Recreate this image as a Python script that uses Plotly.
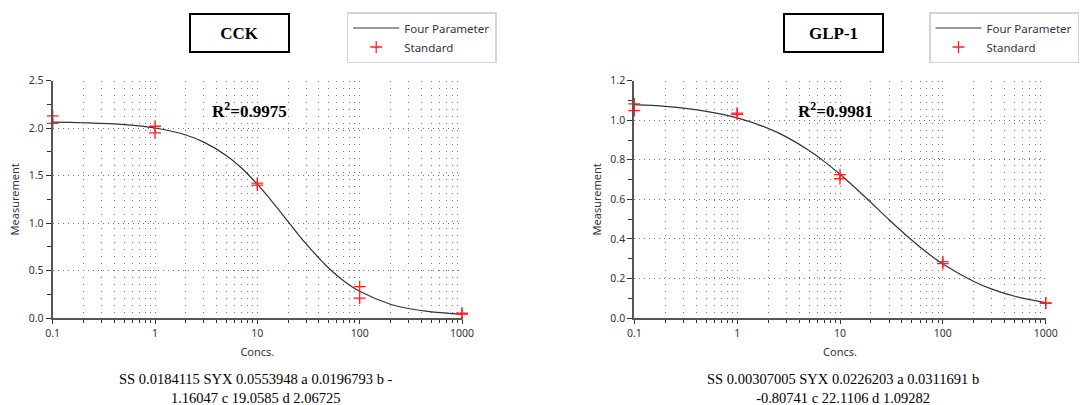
import plotly.graph_objects as go

# ---------------- data ----------------
conc_curve = [0.1, 0.2, 0.5, 1, 2, 3, 5, 7, 10, 15, 20, 30, 50, 70, 100, 200, 300, 500, 1000]
cck_curve = [2.063, 2.057, 2.038, 2.002, 1.928, 1.853, 1.710, 1.580, 1.410, 1.185, 1.015,
             0.780, 0.524, 0.390, 0.281, 0.145, 0.100, 0.065, 0.040]
glp_curve = [1.079, 1.070, 1.045, 1.012, 0.959, 0.916, 0.847, 0.792, 0.727, 0.645, 0.584,
             0.497, 0.393, 0.331, 0.273, 0.185, 0.146, 0.110, 0.078]

std_conc = [0.1, 0.1, 1, 1, 10, 10, 100, 100, 1000, 1000]
cck_std = [2.13, 2.05, 2.02, 1.95, 1.42, 1.40, 0.33, 0.21, 0.05, 0.04]
glp_std = [1.083, 1.049, 1.036, 1.030, 0.725, 0.705, 0.285, 0.275, 0.076, 0.074]

x_tickvals = [0.1, 1, 10, 100, 1000]
x_ticktext = ["0.1", "1", "10", "100", "1000"]
x_minor = [m * d for d in (0.1, 1, 10, 100) for m in range(2, 10)]

panel_titles = ["CCK", "GLP-1"]
r2_texts = ["R<sup>2</sup>=0.9975", "R<sup>2</sup>=0.9981"]
stat_texts = ["SS 0.0184115 SYX 0.0553948 a 0.0196793 b -<br>1.16047 c 19.0585 d 2.06725",
              "SS 0.00307005 SYX 0.0226203 a 0.0311691 b<br>-0.80741 c 22.1106 d 1.09282"]
y_ranges = [[0, 2.5], [0, 1.2]]
y_dticks = [0.5, 0.2]

# ---------------- layout constants ----------------
W, H = 1082, 405
px = lambda v: v / W
py = lambda v: 1 - v / H

x_domains = [[px(52.7), px(462)], [px(634.3), px(1045.7)]]
y_domain = [py(318), py(80.7)]

tick_font = dict(family="Noto Sans", size=10.5, color="#333344")
title_font = dict(family="Noto Sans", size=11, color="#333344")
GRID = "#7a7a7a"

fig = go.Figure()

series = [(cck_curve, cck_std), (glp_curve, glp_std)]
for i, (curve, std) in enumerate(series):
    xa = "x" if i == 0 else "x2"
    ya = "y" if i == 0 else "y2"
    lg = "legend" if i == 0 else "legend2"
    fig.add_trace(go.Scatter(
        x=conc_curve, y=curve, mode="lines", name="Four Parameter",
        line=dict(color="#333333", width=1.2, shape="spline"),
        xaxis=xa, yaxis=ya, legend=lg, cliponaxis=False))
    fig.add_trace(go.Scatter(
        x=std_conc, y=std, mode="markers", name="Standard",
        marker=dict(symbol="cross-thin", size=8.5, line=dict(color="#ff2020", width=1.3)),
        xaxis=xa, yaxis=ya, legend=lg, cliponaxis=False))

axis_common_x = dict(
    type="log", range=[-1, 3], tickmode="array", tickvals=x_tickvals, ticktext=x_ticktext,
    ticks="outside", ticklen=4, tickcolor="#333333", tickfont=tick_font,
    showline=True, linecolor="#555555", linewidth=2,
    showgrid=True, gridcolor=GRID, griddash="1px,6px", gridwidth=1,
    minor=dict(tickmode="array", tickvals=x_minor, ticks="outside", ticklen=3,
               tickcolor="#333333", showgrid=True, gridcolor=GRID,
               griddash="1px,6px", gridwidth=1),
    zeroline=False, fixedrange=True,
    title=dict(text="Concs.", font=title_font, standoff=10),
)

layout = dict(
    width=W, height=H, margin=dict(l=0, r=0, t=0, b=0, autoexpand=False),
    paper_bgcolor="white", plot_bgcolor="white",
    showlegend=True,
)

for i in range(2):
    sfx = "" if i == 0 else "2"
    xa = dict(axis_common_x, domain=x_domains[i], anchor="y" + sfx)
    ya = dict(
        range=y_ranges[i], dtick=y_dticks[i], tickformat=".1f", domain=y_domain,
        anchor="x" + sfx, ticks="outside", ticklen=5, tickcolor="#333333",
        tickfont=tick_font, showline=True, linecolor="#555555", linewidth=2,
        showgrid=True, gridcolor=GRID, griddash="1px,4px", gridwidth=1,
        minor=dict(dtick=y_dticks[i] / 2, ticks="outside", ticklen=4,
                   tickcolor="#333333", showgrid=False),
        zeroline=False, fixedrange=True,
        title=dict(text="Measurement", font=title_font, standoff=7),
    )
    layout["xaxis" + sfx] = xa
    layout["yaxis" + sfx] = ya

legend_common = dict(
    xanchor="left", yanchor="top", bgcolor="white",
    bordercolor="#d4d4d4", borderwidth=1.5,
    font=dict(family="Noto Sans", size=11.5, color="#333344"),
    itemwidth=46, tracegroupgap=0,
)
layout["legend"] = dict(legend_common, x=px(346.7), y=py(12))
layout["legend2"] = dict(legend_common, x=px(929), y=py(12))

fig.update_layout(**layout)

title_centers = [239.5, 833.5]
r2_centers = [249, 835]
stat_centers = [256, 843]
for i in range(2):
    fig.add_annotation(
        x=px(title_centers[i]), y=py(33), xref="paper", yref="paper",
        xanchor="center", yanchor="middle", showarrow=False,
        text="<b>%s</b>" % panel_titles[i],
        font=dict(family="Liberation Serif", size=17, color="black"),
        width=95, height=34, borderpad=1, borderwidth=2, bordercolor="black",
        bgcolor="white")
    fig.add_annotation(
        x=px(r2_centers[i]), y=py(110), xref="paper", yref="paper",
        xanchor="center", yanchor="middle", showarrow=False,
        text="<b>%s</b>" % r2_texts[i],
        font=dict(family="Liberation Serif", size=17, color="black"))
    fig.add_annotation(
        x=px(stat_centers[i]), y=py(388), xref="paper", yref="paper",
        xanchor="center", yanchor="middle", showarrow=False,
        text=stat_texts[i],
        font=dict(family="Liberation Serif", size=14.5, color="black"))

fig.write_html("out.html")
